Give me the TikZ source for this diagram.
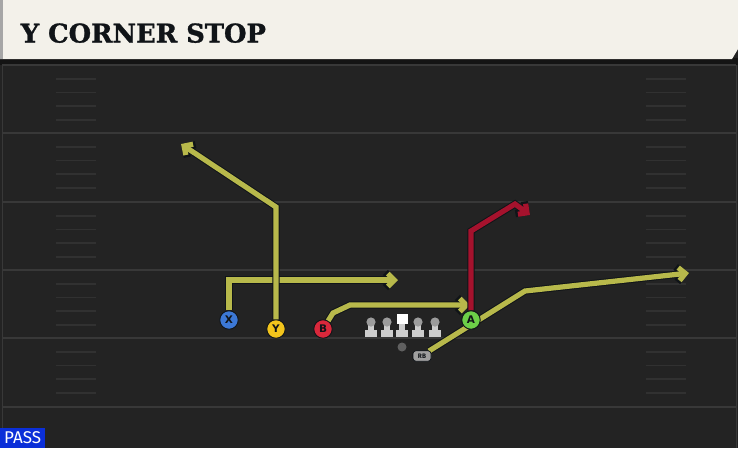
\documentclass[tikz,border=0pt]{standalone}
\usepackage{fontspec}
\setmainfont{DejaVu Serif}
\newfontfamily\titlef{DejaVu Serif Bold}[FakeBold=1.2]
\newfontfamily\sansf{Fira Sans}
\newfontfamily\dvsans{DejaVu Sans}
\usetikzlibrary{arrows.meta}
\definecolor{fieldc}{HTML}{232323}
\definecolor{bandc}{HTML}{141414}
\definecolor{yardc}{HTML}{383838}
\definecolor{hashc}{HTML}{313131}
\definecolor{headc}{HTML}{F3F1EA}
\definecolor{routey}{HTML}{B8B94B}
\definecolor{router}{HTML}{A5122D}
\definecolor{outc}{HTML}{101418}
\definecolor{xblue}{HTML}{3C78D6}
\definecolor{yyel}{HTML}{F2C41C}
\definecolor{bred}{HTML}{D9283B}
\definecolor{agreen}{HTML}{6CCF48}
\definecolor{linec}{HTML}{CDCDCD}
\definecolor{lineh}{HTML}{9C9C9C}
\definecolor{passb}{HTML}{0B2FD8}
\tikzset{
  yard/.style={draw=yardc, line width=2pt},
  hash/.style={draw=hashc, line width=1.6pt},
  player/.style={circle, draw=outc, line width=0.9pt, minimum size=18.5pt, inner sep=0pt,
    font=\dvsans\bfseries\fontsize{10.5}{10.5}\selectfont, text=outc},
  routeout/.style={draw=outc, line width=7.2pt, line join=miter,
    -{Straight Barb[length=7.5pt,width=15pt]}},
  routeyel/.style={draw=routey, line width=5.2pt, line join=miter,
    -{Straight Barb[length=6.5pt,width=13pt]}},
  routered/.style={draw=router, line width=5.2pt, line join=miter,
    -{Straight Barb[length=6.5pt,width=13pt]}},
  rbbox/.style={rounded corners=3pt, fill=gray!75, draw=outc, line width=0.7pt, minimum width=18pt, minimum height=10.5pt, inner sep=0pt,
    font=\sansf\bfseries\fontsize{6.5}{6.5}\selectfont, text=outc},
}
\newcommand\lineman[1]{%
  \fill[linec] (#1-6,330) rectangle (#1+6,337);
  \fill[linec] (#1-2.6,323) rectangle (#1+2.6,330);
  \fill[lineh] (#1,322) circle (4.6);
}
\begin{document}
\begin{tikzpicture}[x=1pt,y=-1pt]
\useasboundingbox (0,0) rectangle (738,448);
\fill[fieldc] (0,0) rectangle (738,448);
% header
\fill[bandc] (0,58) rectangle (738,65);
\fill[headc] (0,0) -- (738,0) -- (738,49) -- (732,59) -- (0,59) -- cycle;
\fill[gray!70] (0,0) rectangle (2.5,59);
\node[anchor=base west, inner sep=0pt, font=\titlef\fontsize{25.8}{25.8}\selectfont, text=outc] (title) at (20.5,42.5) {Y CORNER STOP};
% side lines
\draw[yardc, line width=1pt] (2,65) -- (2,448);
\draw[yardc, line width=1pt] (736,65) -- (736,448);
% yard lines
\foreach \y in {65,133,202,270,338,407} \draw[yard] (2,\y) -- (736,\y);
% hash marks
\foreach \y in {65,133,202,270,338} {
  \foreach \d in {14,27.5,41,55} {
    \draw[hash] (56,\y+\d) -- (96,\y+\d);
    \draw[hash] (646,\y+\d) -- (686,\y+\d);
  }
}
% linemen
\lineman{371}
\lineman{387}
\lineman{418}
\lineman{435}
\fill[linec] (402-6,330) rectangle (402+6,337);
\fill[linec] (402-2.6,323) rectangle (402+2.6,330);
\fill[white] (396.5,313.5) rectangle (407.5,324);
% ball / QB dot
\node[circle, fill=gray!75!black, inner sep=0pt, minimum size=9pt] (qb) at (402,347) {};
% players
\node[player, fill=xblue] (X) at (229,320) {X};
\node[player, fill=yyel] (Y) at (276,329) {Y};
\node[player, fill=bred] (B) at (323,329) {B};
\node[player, fill=agreen] (A) at (471,320) {A};
\node[rbbox] (RB) at (422,356) {RB};
% route points
\coordinate (x1) at (229,280); \coordinate (xe) at (398,280);
\coordinate (y1) at (276,207); \coordinate (ye) at (181,144);
\coordinate (b1) at (333,313); \coordinate (b2) at (350,305); \coordinate (be) at (470,305);
\coordinate (a1) at (471,231); \coordinate (a2) at (515,204); \coordinate (ae) at (530,215);
\coordinate (r1) at (525,291); \coordinate (re) at (689,273);
\coordinate (rs) at (429,351);
% routes
\draw[routeout] (X) -- (x1) -- (xe);
\draw[routeyel] (X) -- (x1) -- (xe);
\draw[routeout] (Y) -- (y1) -- (ye);
\draw[routeyel] (Y) -- (y1) -- (ye);
\draw[routeout] (B) -- (b1) -- (b2) -- (be);
\draw[routeyel] (B) -- (b1) -- (b2) -- (be);
\draw[routeout] (rs) -- (r1) -- (re);
\draw[routeyel] (rs) -- (r1) -- (re);
\draw[routeout] (A) -- (a1) -- (a2) -- (ae);
\draw[routered] (A) -- (a1) -- (a2) -- (ae);
% redraw nodes on top
\node[player, fill=agreen] at (A) {A};
\node[rbbox] at (RB) {RB};
% pass label
\node[fill=passb, text=white, anchor=south west, minimum width=45pt, minimum height=20pt, inner sep=0pt,
  font=\sansf\fontsize{17}{17}\selectfont] (pass) at (0,448) {PASS};
\end{tikzpicture}
\end{document}
